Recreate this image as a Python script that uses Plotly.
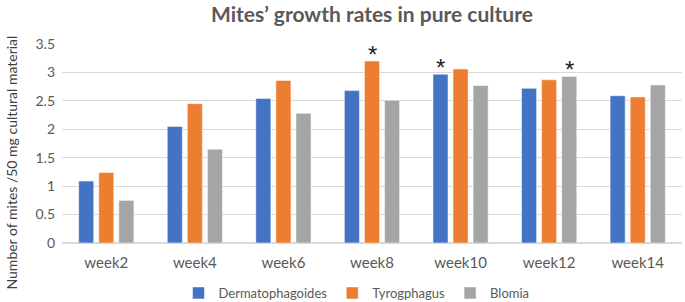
import plotly.graph_objects as go

weeks = ["week2", "week4", "week6", "week8", "week10", "week12", "week14"]
dermatophagoides = [1.09, 2.05, 2.54, 2.68, 2.97, 2.72, 2.59]
tyrogphagus = [1.24, 2.45, 2.86, 3.20, 3.06, 2.87, 2.57]
blomia = [0.75, 1.65, 2.28, 2.51, 2.77, 2.93, 2.78]
derm_marks = ["", "", "", "", "*", "", ""]
tyro_marks = ["", "", "", "*", "", "", ""]
blom_marks = ["", "", "", "", "", "*", ""]

series = [
    ("Dermatophagoides", dermatophagoides, derm_marks, "#4472C4", -20.1),
    ("Tyrogphagus", tyrogphagus, tyro_marks, "#ED7D31", 0.0),
    ("Blomia", blomia, blom_marks, "#A5A5A5", 20.1),
]

FONT = "Lato"

fig = go.Figure()
annotations = []
for name, vals, marks, color, shift in series:
    fig.add_trace(go.Bar(
        x=weeks, y=vals, name=name,
        marker=dict(color=color, line=dict(color="rgba(255,255,255,0.5)", width=1)),
    ))
    for wk, v, m in zip(weeks, vals, marks):
        if m:
            annotations.append(dict(text=m, x=wk, y=v, xref="x", yref="y", xshift=shift,
                                    yanchor="bottom", yshift=-9, showarrow=False,
                                    font=dict(size=24, color="#222222", family="Liberation Sans")))

annotations.append(dict(text="Number of mites /50 mg cultural material", textangle=-90,
                        xref="paper", x=0, xshift=-51, xanchor="center",
                        yref="paper", y=0.5, yshift=-19, yanchor="middle", showarrow=False,
                        font=dict(size=14, color="#404040", family=FONT)))

fig.update_layout(
    width=685, height=302,
    margin=dict(l=62, r=3, t=44, b=59),
    paper_bgcolor="white", plot_bgcolor="white",
    font=dict(family=FONT, color="#595959"),
    title=dict(text="<b>Mites’ growth rates in pure culture</b>", x=0.5, xanchor="center",
               xref="paper", yref="container", y=1 - 15 / 302, yanchor="middle",
               font=dict(size=21, color="#595959", family=FONT)),
    barmode="group", bargap=0.32, bargroupgap=0.25,
    showlegend=True,
    legend=dict(orientation="h", x=0.475, xanchor="center", yref="container", y=1 - 293 / 302,
                yanchor="middle", font=dict(size=13, color="#595959", family=FONT),
                traceorder="normal", itemwidth=30),
    annotations=annotations,
)
fig.update_yaxes(range=[0, 3.5], dtick=0.5, showgrid=True, gridcolor="#D9D9D9", gridwidth=1,
                 zeroline=True, zerolinecolor="#D9D9D9", tickfont=dict(size=14, color="#595959"),
                 ticks="", ticklabelstandoff=6)
fig.update_xaxes(tickfont=dict(size=15, color="#595959"), showline=True, linecolor="#D9D9D9",
                 ticks="", ticklabelstandoff=6)

fig.write_html("out.html", config={"displayModeBar": False},
               post_script="document.body.style.margin='0';")
